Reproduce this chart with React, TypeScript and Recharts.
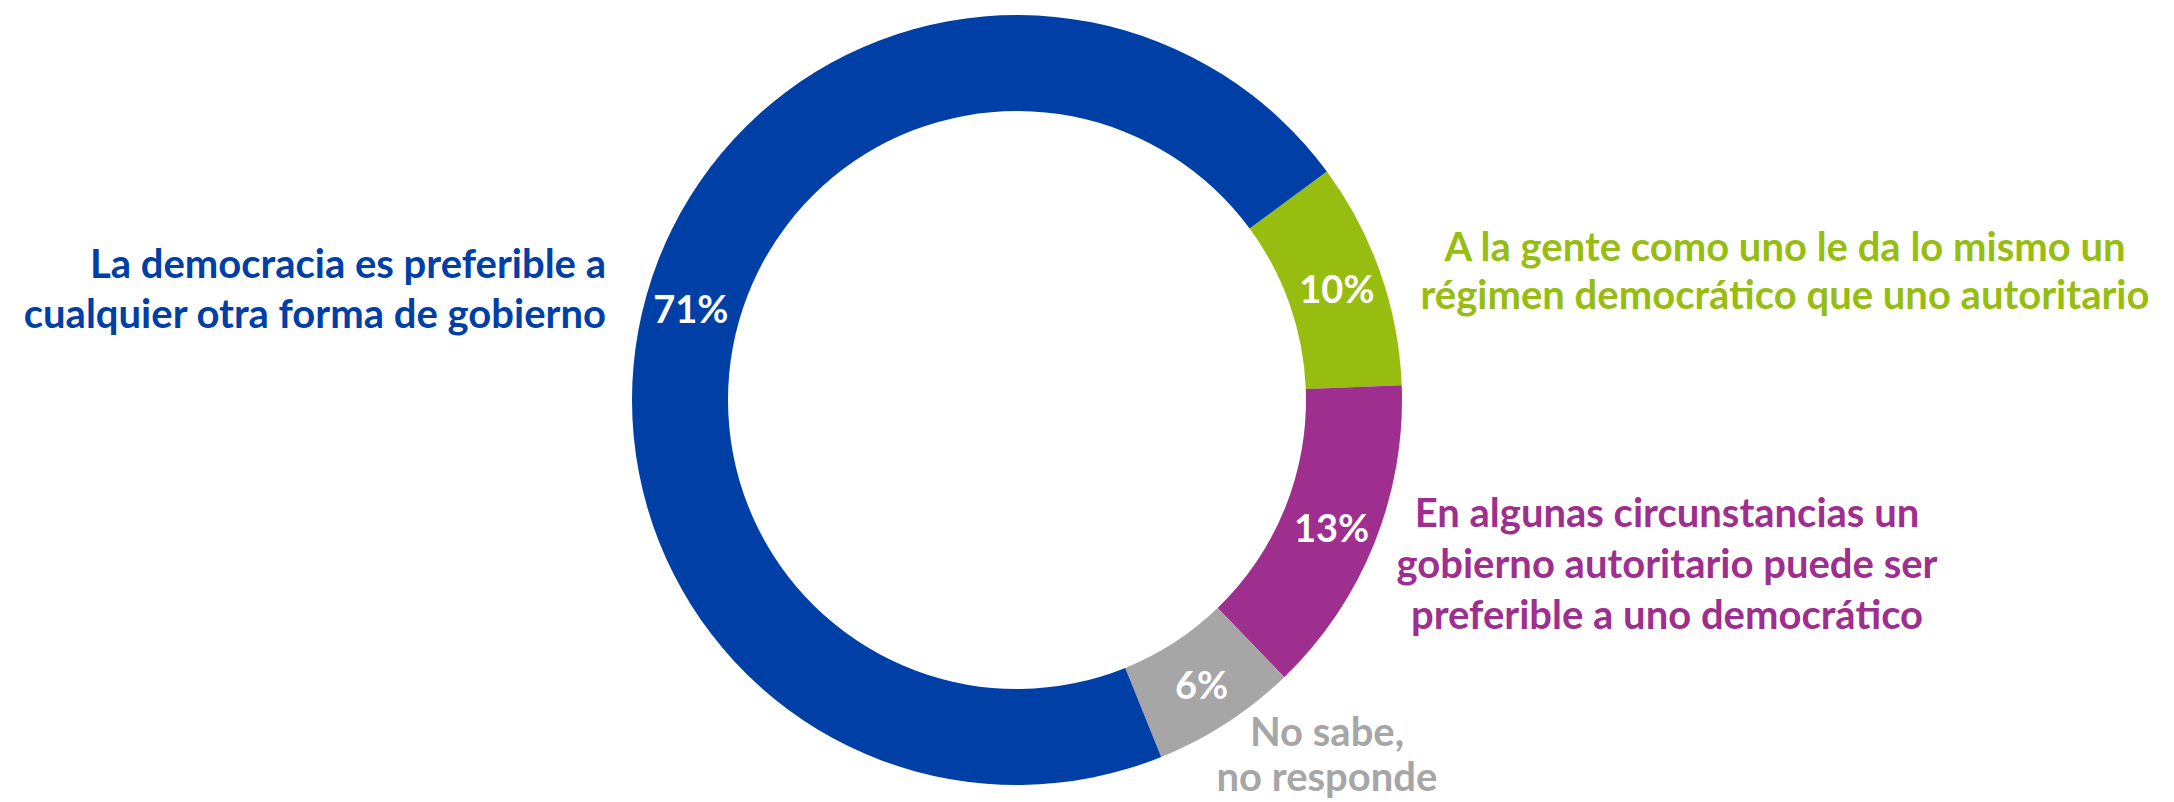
import { PieChart, Pie, Cell } from "recharts"

const categories = [
  ["A la gente como uno le da lo mismo un", "régimen democrático que uno autoritario"],
  ["En algunas circunstancias un", "gobierno autoritario puede ser", "preferible a uno democrático"],
  ["No sabe,", "no responde"],
  ["La democracia es preferible a", "cualquier otra forma de gobierno"],
]
const values = [9.5, 13.4, 6.1, 71.0]
const shownPct = ["10%", "13%", "6%", "71%"]
const colors = ["#97bd10", "#9e2f8f", "#a6a6a6", "#0040a6"]

// where the category text sits, in page px
const textLayout = [
  { x: 1785, y: 246, anchor: "middle", lh: 48 },
  { x: 1667, y: 512, anchor: "middle", lh: 51 },
  { x: 1327, y: 731, anchor: "middle", lh: 45 },
  { x: 606, y: 263, anchor: "end", lh: 50 },
]

const data = values.map((v, i) => ({ name: categories[i].join(" "), value: v }))

const RAD = Math.PI / 180
const FONT = "Lato, 'Open Sans', sans-serif"

function renderLabel(props: any) {
  const { cx, cy, midAngle, innerRadius, outerRadius, index } = props
  const r = (innerRadius + outerRadius) / 2 + 2
  const x = cx + r * Math.cos(-midAngle * RAD)
  const y = cy + r * Math.sin(-midAngle * RAD)
  const t = textLayout[index]
  return (
    <g>
      <text x={x} y={y} fill="#ffffff" fontSize={38} fontWeight={700} fontFamily={FONT}
        textAnchor="middle" dominantBaseline="central">
        {shownPct[index]}
      </text>
      <text fill={colors[index]} fontSize={40} fontWeight={700} fontFamily={FONT}
        textAnchor={t.anchor} dominantBaseline="central">
        {categories[index].map((line, k) => (
          <tspan key={k} x={t.x} y={t.y + k * t.lh}>{line}</tspan>
        ))}
      </text>
    </g>
  )
}

export default function App() {
  return (
    <div style={{ position: "absolute", left: 0, top: 0, width: 2174, height: 802, background: "#fff" }}>
      <PieChart width={2174} height={802}>
        <Pie
          data={data}
          dataKey="value"
          cx={1012}
          cy={395}
          innerRadius={289}
          outerRadius={385}
          startAngle={36.4}
          endAngle={36.4 - 360}
          stroke="none"
          label={renderLabel}
          labelLine={false}
          isAnimationActive={false}
        >
          {data.map((d, i) => (
            <Cell key={d.name} fill={colors[i]} />
          ))}
        </Pie>
      </PieChart>
    </div>
  )
}
